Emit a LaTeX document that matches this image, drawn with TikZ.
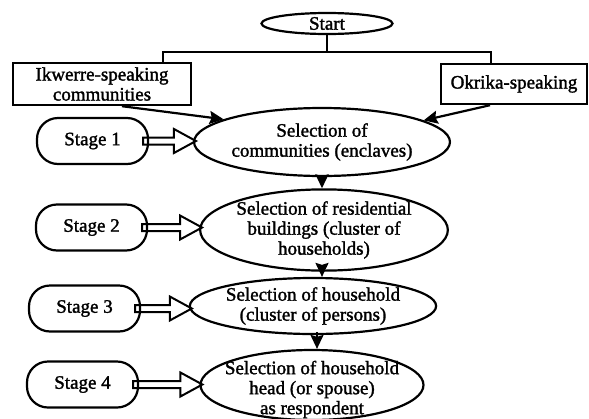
\documentclass[tikz,border=0pt]{standalone}
\usepackage{fontspec}
\setmainfont{Liberation Serif}[FakeBold=1.6]
\usetikzlibrary{arrows.meta,shapes.geometric,calc}
\newcommand{\hollowarrow}[2]{%
  \draw[line width=2pt, line join=miter]
    ($(#1)+(0,-3.5)$) -- ($(#2)+(-22,-3.5)$) -- ($(#2)+(-22,-12)$) -- (#2)
    -- ($(#2)+(-22,12)$) -- ($(#2)+(-22,3.5)$) -- ($(#1)+(0,3.5)$) -- cycle;}
\begin{document}
\begin{tikzpicture}[x=1pt,y=-1pt, font=\fontsize{19}{20}\selectfont,
  lw/.style={line width=2.2pt},
  ell/.style={ellipse, draw, line width=2.2pt, inner sep=0pt, align=center},
  rbox/.style={rectangle, draw, line width=2.4pt, inner sep=0pt, align=center},
  stagebox/.style={rectangle, rounded corners=21pt, draw, line width=2.2pt,
    minimum width=111pt, minimum height=46pt, inner sep=0pt},
  arr/.style={line width=2.2pt, -{Stealth[length=14pt,width=13pt,inset=2pt]}}]
\useasboundingbox (0,0) rectangle (589,418);
\node[ell, minimum width=131pt, minimum height=21pt] (start) at (327,23.5) {Start};
\node[rbox, minimum width=178pt, minimum height=42pt] (ikw) at (102,84) {Ikwerre-speaking\\communities};
\node[rbox, minimum width=146pt, minimum height=40pt] (okr) at (514,84) {Okrika-speaking};

\node[ell, minimum width=226pt, minimum height=68pt] (e1) at (322,142) {Selection of\\communities (enclaves)};
\node[ell, minimum width=225pt, minimum height=74pt] (e2) at (324,230) {Selection of residential\\buildings (cluster of\\households)};
\node[ell, minimum width=225pt, minimum height=56pt] (e3) at (313,306) {Selection of household\\(cluster of persons)};
\node[ell, minimum width=223pt, minimum height=70pt] (e4) at (312,385) {};
\node[align=center, inner sep=0pt] (e4t) at (312,389.5) {Selection of household\\head (or spouse)\\as respondent};

\node[stagebox] (s1) at (92.5,141) {Stage 1};
\node[stagebox] (s2) at (91.5,227.5) {Stage 2};
\node[stagebox] (s3) at (84.5,308.5) {Stage 3};
\node[stagebox] (s4) at (82.5,384.5) {Stage 4};

\foreach \i in {1,2,3,4}{
  \coordinate (a\i) at ($(s\i.east)+(-6,0)$);
  \coordinate (t\i) at ($(e\i.west |- s\i.east)+(3,0)$);
  \hollowarrow{a\i}{t\i}
}

\coordinate (bus) at ($(start.south)+(0,16.5)$);
\draw[lw] (start.south) -- (bus);
\draw[lw] ($(ikw.north)+(61,0)$) |- (bus) -| ($(okr.north)+(-23,0)$);

\draw[arr] ($(ikw.south)+(20,0)$) -- (e1.167);
\draw[arr] ($(okr.south)+(-24,0)$) -- (e1.12);

\draw[arr] (e1.south) -- (e1.south |- e2.north);
\coordinate (v2) at ($(e2.south)+(-2,-4)$);
\draw[arr] (v2) -- (v2 |- e3.north);
\coordinate (v3) at ($(e3.south)+(4,-3)$);
\draw[arr] (v3) -- (v3 |- e4.north);
\end{tikzpicture}
\end{document}
